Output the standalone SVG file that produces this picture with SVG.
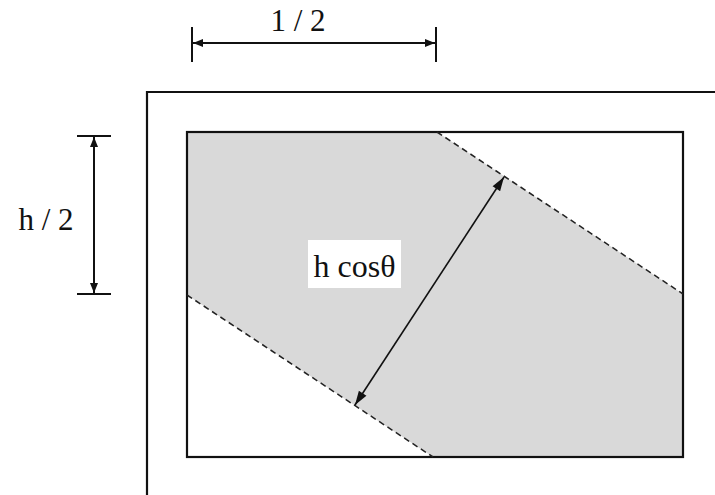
<svg xmlns="http://www.w3.org/2000/svg" width="715" height="495" viewBox="0 0 715 495">
<style>
.lbl{font-family:"Liberation Serif","Times New Roman",serif;font-size:31px;fill:#111;}
.frame{fill:none;stroke:#111;stroke-width:2.2;}
.dash{fill:none;stroke:#222;stroke-width:1.5;stroke-dasharray:6 4;}
.dim{fill:none;stroke:#111;stroke-width:2;}
.arr{fill:none;stroke:#111;stroke-width:1.6;}
</style>
<defs>
<marker id="ah" viewBox="0 0 10 10" refX="10" refY="5" markerWidth="10" markerHeight="10" markerUnits="userSpaceOnUse" orient="auto-start-reverse">
<path d="M0,1 L10,5 L0,9 z" fill="#111"/>
</marker>
<marker id="ah2" viewBox="0 0 14 10" refX="14" refY="5" markerWidth="15" markerHeight="10" markerUnits="userSpaceOnUse" orient="auto-start-reverse">
<path d="M0,0.5 L14,5 L0,9.5 z" fill="#111"/>
</marker>
</defs>
<rect width="715" height="495" fill="#fff"/>
<g id="outer-frame">
<path class="frame" d="M147,495 V92 H715"/>
</g>
<g id="band">
<polygon points="187,132 437,132 683,294 683,457 433,457 187,295" fill="#d9d9d9"/>
</g>
<g id="inner-rect">
<rect class="frame" x="187" y="132" width="496" height="325"/>
</g>
<g id="connectors">
<line class="dash" x1="437" y1="132" x2="683" y2="294"/>
<line class="dash" x1="187" y1="295" x2="433" y2="457"/>
<line class="arr" x1="355" y1="405" x2="504" y2="177" marker-start="url(#ah2)" marker-end="url(#ah2)"/>
<g id="dim-top">
<line class="dim" x1="192" y1="27" x2="192" y2="62"/>
<line class="dim" x1="436" y1="27" x2="436" y2="62"/>
<line class="dim" x1="193" y1="43" x2="435" y2="43" marker-start="url(#ah)" marker-end="url(#ah)"/>
</g>
<g id="dim-left">
<line class="dim" x1="77" y1="136" x2="111" y2="136"/>
<line class="dim" x1="77" y1="294" x2="111" y2="294"/>
<line class="dim" x1="94" y1="137" x2="94" y2="293" marker-start="url(#ah)" marker-end="url(#ah)"/>
</g>
</g>
<g id="label-width">
<text class="lbl" x="298" y="31" text-anchor="middle">1 / 2</text>
</g>
<g id="label-height">
<text class="lbl" x="46" y="230" text-anchor="middle">h / 2</text>
</g>
<g id="label-hcos">
<rect x="308" y="240" width="93" height="48" fill="#fff"/>
<text class="lbl" x="354.5" y="277" text-anchor="middle" style="font-size:32px">h cosθ</text>
</g>
</svg>
